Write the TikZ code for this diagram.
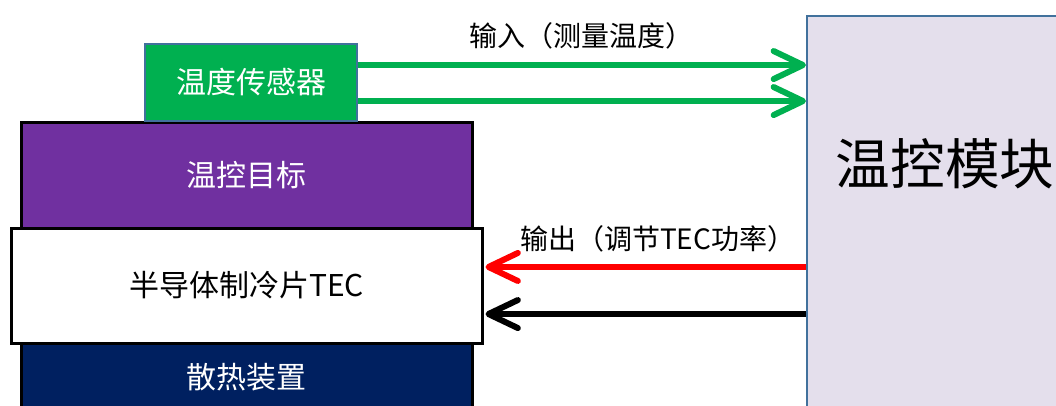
\documentclass[tikz,border=0pt]{standalone}
\usepackage{fontspec}
\setmainfont{Noto Sans CJK SC}
\usepackage{xcolor}
\usepackage{tikz}
\usetikzlibrary{positioning}
\usetikzlibrary{arrows.meta}
\definecolor{sensorgreen}{HTML}{00B050}
\definecolor{targetpurple}{HTML}{7030A0}
\definecolor{sinknavy}{HTML}{002060}
\definecolor{modulefill}{HTML}{E4DFEC}
\definecolor{outlineblue}{HTML}{41719C}
\definecolor{arrowgreen}{HTML}{00B050}
\definecolor{arrowred}{HTML}{FF0000}

\begin{document}
\begin{tikzpicture}[x=0.75pt, y=-0.75pt, every text node part/.style={align=center},
  layer/.style={draw=black, line width=2.25pt, inner sep=0pt, font=\fontsize{22.5}{26}\selectfont},
  signal/.style={line width=4.5pt, -{Straight Barb[length=22pt, width=21pt, line cap=round, line join=round]}},
  tag/.style={font=\fontsize{21}{24}\selectfont, text=black, inner sep=0pt}]
\useasboundingbox (0,0) rectangle (1056,405);
\clip (0,0) rectangle (1056,405);

\node (heat sink) [layer, fill=sinknavy, text=white, minimum width=338.25pt, minimum height=51pt] at (246.5,377) {散热装置};
\node (target) [layer, fill=targetpurple, text=white, minimum width=338.25pt, minimum height=79.5pt] at (246.5,175) {温控目标};
\node (tec) [layer, fill=white, minimum width=353.25pt, minimum height=86.25pt] at (246.5,285.5) {半导体制冷片TEC};
\node (sensor) [draw=outlineblue, line width=1.5pt, fill=sensorgreen, text=white, inner sep=0pt, minimum width=159pt, minimum height=57.75pt, font=\fontsize{22.5}{26}\selectfont] at (251,82.5) {温度传感器};

\node (module) [draw=outlineblue, line width=1.8pt, fill=modulefill, minimum width=197pt, minimum height=303pt] at (938.5,218) {};
\node (module title) [font=\fontsize{41}{48}\selectfont, inner sep=0pt] at ([xshift=5pt, yshift=-111.75pt]module.north) {温控模块};

\draw [signal, arrowgreen] ([yshift=13.1pt]sensor.east) -- ([yshift=13.1pt]sensor.east -| module.west)
  node [tag, midway, above=10pt] {输入（测量温度）};
\draw [signal, arrowgreen] ([yshift=-13.9pt]sensor.east) -- ([yshift=-13.9pt]sensor.east -| module.west);

\draw [signal, arrowred] ([yshift=13.9pt]tec.east -| module.west) -- ([yshift=13.9pt, xshift=1.5pt]tec.east)
  node [tag, midway, above=9pt, xshift=9pt] {输出（调节TEC功率）};
\draw [signal, black] ([yshift=-21.4pt]tec.east -| module.west) -- ([yshift=-21.4pt, xshift=1.5pt]tec.east);

\end{tikzpicture}
\end{document}
